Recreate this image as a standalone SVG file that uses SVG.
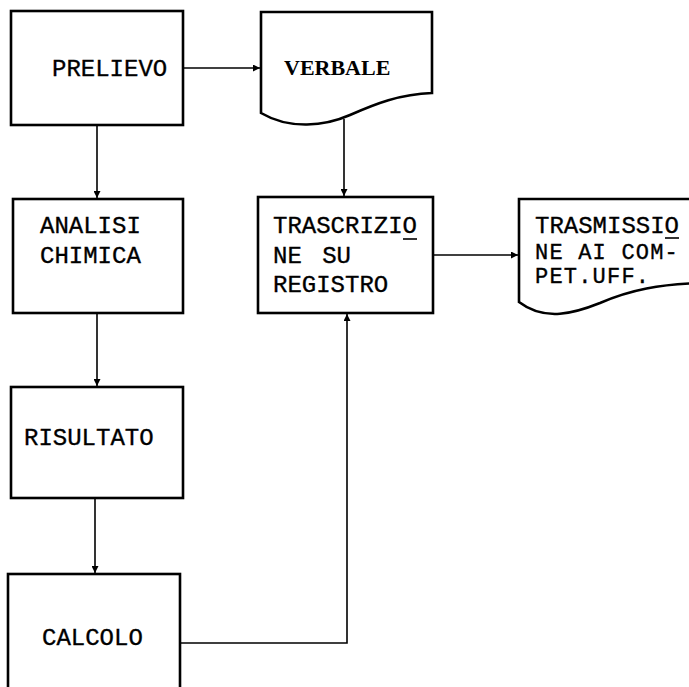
<svg xmlns="http://www.w3.org/2000/svg" width="689" height="687" viewBox="0 0 689 687">
<defs>
<style>
.box{fill:#fff;stroke:#000;stroke-width:2.6;stroke-linejoin:miter}
.t{font-family:"Liberation Mono","Courier New",monospace;font-size:24px;fill:#000;stroke:#000;stroke-width:0.35}
.tn{font-size:22px;letter-spacing:1.2px}
.ts{font-family:"Liberation Serif","Times New Roman",serif;font-size:22px;font-weight:bold;fill:#000}
.c{fill:none;stroke:#000;stroke-width:1.6}
.u{stroke:#000;stroke-width:1.6}
</style>
<marker id="ah" viewBox="0 0 10 10" refX="10" refY="5" markerWidth="7" markerHeight="7" markerUnits="userSpaceOnUse" orient="auto">
<path d="M0,0 L10,5 L0,10 Z" fill="#000"/>
</marker>
</defs>
<rect width="689" height="687" fill="#fff"/>
<g id="connectors">
<line class="c" x1="183" y1="68" x2="260" y2="68" marker-end="url(#ah)"/>
<line class="c" x1="97" y1="125" x2="97" y2="198" marker-end="url(#ah)"/>
<line class="c" x1="344" y1="119" x2="344" y2="196" marker-end="url(#ah)"/>
<line class="c" x1="97" y1="313" x2="97" y2="386" marker-end="url(#ah)"/>
<line class="c" x1="95" y1="498" x2="95" y2="573" marker-end="url(#ah)"/>
<polyline class="c" points="180,643 347,643 347,314" marker-end="url(#ah)"/>
<line class="c" x1="433" y1="255" x2="518" y2="255" marker-end="url(#ah)"/>
</g>
<g id="prelievo">
<rect class="box" x="11" y="11" width="172" height="114"/>
<text class="t" x="52" y="76">PRELIEVO</text>
</g>
<g id="verbale">
<path class="box" d="M261,12 L432,12 L432,93 C400,94 375,104 350,115 C325,126 290,130 261,113 Z"/>
<text class="ts" x="284" y="75">VERBALE</text>
</g>
<g id="analisi">
<rect class="box" x="13" y="199" width="170" height="114"/>
<text class="t" x="40" y="233">ANALISI</text>
<text class="t" x="40" y="263">CHIMICA</text>
</g>
<g id="risultato">
<rect class="box" x="11" y="387" width="172" height="111"/>
<text class="t" x="24" y="445">RISULTATO</text>
</g>
<g id="calcolo">
<rect class="box" x="8" y="574" width="172" height="130"/>
<text class="t" x="42" y="645">CALCOLO</text>
</g>
<g id="trascrizione">
<rect class="box" x="258" y="197" width="175" height="116"/>
<text class="t" x="273" y="233">TRASCRIZIO</text>
<line class="u" x1="403" y1="239" x2="417" y2="239"/>
<text class="t" x="273" y="263" word-spacing="6">NE SU</text>
<text class="t" x="273" y="292">REGISTRO</text>
</g>
<g id="trasmissione">
<path class="box" d="M519,199 L702,199 L702,283 C660,284 630,290 600,303 C575,313 545,322 519,302 Z"/>
<text class="t" x="535" y="233">TRASMISSIO</text>
<line class="u" x1="665" y1="238" x2="679" y2="238"/>
<text class="t tn" x="535" y="259">NE AI COM-</text>
<text class="t tn" x="535" y="283">PET.UFF.</text>
</g>
</svg>
